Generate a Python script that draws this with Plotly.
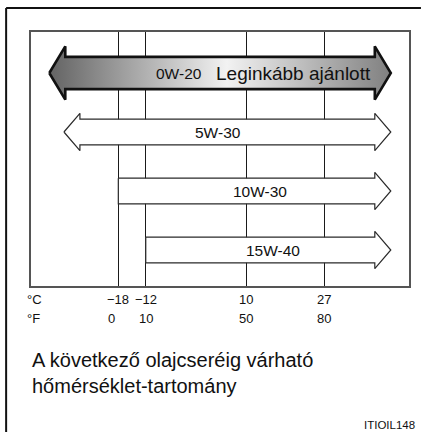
import plotly.graph_objects as go

# ---- data ----
grades = ["0W-20", "5W-30", "10W-30", "15W-40"]
min_temp_c = [None, None, -18, -12]          # None = no lower limit (arrow both ways)
recommended = ["Leginkább ajánlott", "", "", ""]
tick_c = [-18, -12, 10, 27]
tick_c_labels = ["\u221218", "\u221212", "10", "27"]
tick_f_labels = ["0", "10", "50", "80"]
title_text = "A következő olajcseréig várható<br>hőmérséklet-tartomány"
code_text = "ITIOIL148"

# ---- layout constants (pixels -> axes) ----
W, H = 422, 432
L, R, T, B = 31, 11, 32, 146
PW, PH = W - L - R, H - T - B
X_RANGE = [-37.1, 45.58]
Y_RANGE = [-0.61, 3.695]
ROWS = [3, 2, 1, 0]
RIGHT_TIP = 41.6
LEFT_TIP = [-33.1, -29.9, None, None]
HEAD_LEN = 3.5
BODY_HALF = [0.274, 0.217, 0.217, 0.217]
HEAD_HALF = [0.452, 0.317, 0.317, 0.317]
LABEL_X = [-4.7, 3.8, 12.9, 15.8]
REC_X = 20.3
FONT = "Liberation Sans, Arial, sans-serif"


def px2paper_y(py):
    return (T + PH - py) / PH


def px2paper_x(px):
    return (px - L) / PW


def arrow(x0, x1, yc, bh, hh, hl, left_head):
    if left_head:
        xs = [x0, x0 + hl, x0 + hl, x1 - hl, x1 - hl, x1, x1 - hl, x1 - hl, x0 + hl, x0 + hl, x0]
        ys = [yc, yc + hh, yc + bh, yc + bh, yc + hh, yc, yc - hh, yc - bh, yc - bh, yc - hh, yc]
    else:
        xs = [x0, x1 - hl, x1 - hl, x1, x1 - hl, x1 - hl, x0, x0]
        ys = [yc + bh, yc + bh, yc + hh, yc, yc - hh, yc - bh, yc - bh, yc + bh]
    return xs, ys


fig = go.Figure()
for i, g in enumerate(grades):
    if min_temp_c[i] is None:
        xs, ys = arrow(LEFT_TIP[i], RIGHT_TIP, ROWS[i], BODY_HALF[i], HEAD_HALF[i], HEAD_LEN, True)
    else:
        xs, ys = arrow(min_temp_c[i], RIGHT_TIP, ROWS[i], BODY_HALF[i], HEAD_HALF[i], HEAD_LEN, False)
    if i == 0:
        fig.add_trace(go.Scatter(
            x=xs, y=ys, mode="lines", fill="toself",
            fillgradient=dict(type="horizontal",
                              colorscale=[[0, "#636363"], [0.52, "#f2f2f2"], [1, "#808080"]]),
            line=dict(color="#111111", width=2.6), hoverinfo="skip", showlegend=False))
    else:
        fig.add_trace(go.Scatter(
            x=xs, y=ys, mode="lines", fill="toself", fillcolor="white",
            line=dict(color="#2a2a2a", width=1.2), hoverinfo="skip", showlegend=False))

ann = []
for i, g in enumerate(grades):
    ann.append(dict(x=LABEL_X[i], y=ROWS[i], xref="x", yref="y", text=g, showarrow=False,
                    font=dict(family=FONT, size=15.5, color="#111111"),
                    xanchor="center", yanchor="middle"))
    if recommended[i]:
        ann.append(dict(x=REC_X, y=ROWS[i], xref="x", yref="y", text=recommended[i], showarrow=False,
                        font=dict(family=FONT, size=19, color="#111111"),
                        xanchor="center", yanchor="middle"))

yc_row = px2paper_y(299)
yf_row = px2paper_y(318.5)
f_shift = [-7, 0, 0, 0]
for v, tc, tf, sh in zip(tick_c, tick_c_labels, tick_f_labels, f_shift):
    ann.append(dict(x=v, y=yc_row, xref="x", yref="paper", text=tc, showarrow=False,
                    font=dict(family=FONT, size=13, color="#111111"),
                    xanchor="center", yanchor="middle"))
    ann.append(dict(x=v, y=yf_row, xref="x", yref="paper", text=tf, showarrow=False, xshift=sh,
                    font=dict(family=FONT, size=13, color="#111111"),
                    xanchor="center", yanchor="middle"))
for lab, yy in [("°C", yc_row), ("°F", yf_row)]:
    ann.append(dict(x=px2paper_x(25), y=yy, xref="paper", yref="paper", text=lab, showarrow=False,
                    font=dict(family=FONT, size=13, color="#111111"),
                    xanchor="left", yanchor="middle"))

ann.append(dict(x=px2paper_x(30), y=px2paper_y(373), xref="paper", yref="paper", text=title_text,
                showarrow=False, align="left", font=dict(family=FONT, size=20, color="#111111"),
                xanchor="left", yanchor="middle"))
ann.append(dict(x=px2paper_x(419), y=px2paper_y(424.5), xref="paper", yref="paper", text=code_text,
                showarrow=False, font=dict(family=FONT, size=11.5, color="#111111"),
                xanchor="right", yanchor="middle"))

shapes = [
    dict(type="line", xref="paper", yref="paper", x0=px2paper_x(6), x1=px2paper_x(423),
         y0=px2paper_y(8), y1=px2paper_y(8), line=dict(color="#111111", width=2)),
    dict(type="line", xref="paper", yref="paper", x0=px2paper_x(6), x1=px2paper_x(6),
         y0=px2paper_y(8), y1=px2paper_y(433), line=dict(color="#111111", width=2)),
]

fig.update_layout(
    width=W, height=H, margin=dict(l=L, r=R, t=T, b=B),
    paper_bgcolor="white", plot_bgcolor="white",
    annotations=ann, shapes=shapes, hovermode=False, showlegend=False,
    xaxis=dict(range=X_RANGE, tickvals=tick_c, showticklabels=False, ticks="",
               showgrid=True, gridcolor="#1a1a1a", gridwidth=1, zeroline=False,
               showline=True, mirror=True, linecolor="#555555", linewidth=1.5, fixedrange=True),
    yaxis=dict(range=Y_RANGE, showticklabels=False, ticks="", showgrid=False, zeroline=False,
               showline=True, mirror=True, linecolor="#555555", linewidth=1.5, fixedrange=True),
)

fig.write_html("out.html", config={"displayModeBar": False},
               post_script="document.body.style.margin='0';document.body.style.overflow='hidden';")
